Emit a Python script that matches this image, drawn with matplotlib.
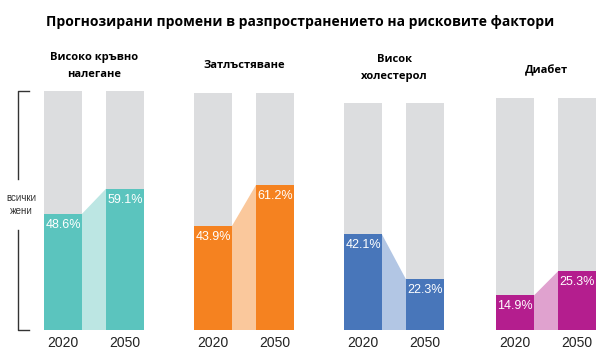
import matplotlib.pyplot as plt
from matplotlib.patches import Polygon

# data
factors = ["Високо кръвно\nналегане", "Затлъстяване", "Висок\nхолестерол", "Диабет"]
years = ["2020", "2050"]
v2020 = [48.6, 43.9, 42.1, 14.9]
v2050 = [59.1, 61.2, 22.3, 25.3]
colors = ["#5BC4BE", "#F58220", "#4876BA", "#B41E8E"]
light = ["#BCE6E3", "#FAC89C", "#B2C6E4", "#E0A2CF"]
gray = "#DCDDDF"

W, H = 600, 361
fig = plt.figure(figsize=(6, 3.61), dpi=100)

# pixel layout of each panel: left edge, top edge (bottom is shared)
lefts = [44, 194, 344, 496]
tops = [91, 93, 103, 98]
sub_y = [66, 66, 68, 71]
bottom = 330
pw = 100
bw = 38 / 62  # bar width relative to bar spacing

for i in range(4):
    ax = fig.add_axes([lefts[i] / W, 1 - bottom / H, pw / W, (bottom - tops[i]) / H])
    vals = [v2020[i], v2050[i]]
    ax.bar([0, 1], [100, 100], width=bw, color=gray, zorder=1)
    ax.bar([0, 1], vals, width=bw, color=colors[i], zorder=2)
    # connector between bars
    x0, x1 = bw / 2, 1 - bw / 2
    ax.add_patch(Polygon([(x0, 0), (x0, vals[0]), (x1, vals[1]), (x1, 0)],
                         closed=True, color=light[i], lw=0, zorder=2))
    for x, v in zip([0, 1], vals):
        ax.text(x, v - 2, f"{v:.1f}%", ha="center", va="top", color="white",
                fontsize=9, family=["Liberation Sans"], zorder=3)
    ax.set_xlim(-bw / 2, 1 + bw / 2)
    ax.set_ylim(0, 100)
    ax.set_xticks([0, 1])
    ax.set_xticklabels(years, fontsize=10, family=["Liberation Sans"], color="#222222")
    ax.tick_params(axis="x", length=0, pad=4)
    ax.set_yticks([])
    for s in ax.spines.values():
        s.set_visible(False)
    fig.text((lefts[i] + pw / 2) / W, 1 - sub_y[i] / H, factors[i], ha="center", va="center",
             fontsize=8, fontweight="bold", family=["Open Sans"], linespacing=1.65)

    if i == 0:
        # bracket for "всички жени"
        bx, tx = (18 - 44) / pw, (29 - 44) / pw
        ax.plot([tx, bx, bx], [1, 1, 0.63], color="#333333", lw=1,
                transform=ax.transAxes, clip_on=False)
        ax.plot([tx, bx, bx], [0, 0, 0.42], color="#333333", lw=1,
                transform=ax.transAxes, clip_on=False)
        ax.text((21 - 44) / pw, 0.525, "всички\nжени", transform=ax.transAxes,
                ha="center", va="center", fontsize=7, family=["Liberation Sans"],
                color="#333333", linespacing=1.3)

fig.text(0.5, 1 - 22 / H, "Прогнозирани промени в разпространението на рисковите фактори",
         ha="center", va="center", fontsize=10, fontweight="bold", family=["Open Sans"])

fig.savefig("out.png", dpi=100)
